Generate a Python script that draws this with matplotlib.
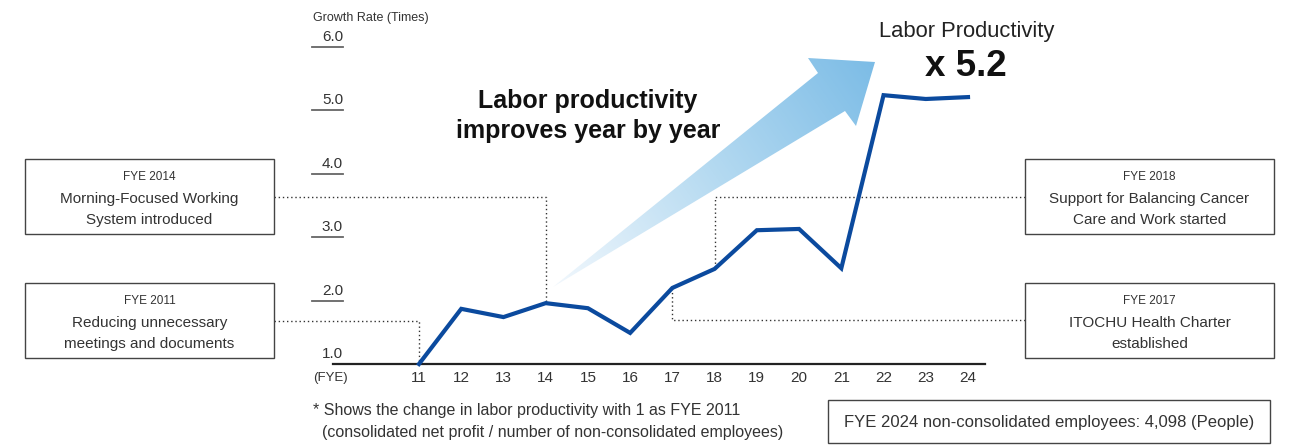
import numpy as np
import matplotlib
matplotlib.use("Agg")
import matplotlib.pyplot as plt
from matplotlib.patches import Rectangle, Polygon
from matplotlib.colors import LinearSegmentedColormap

# data
years = [11, 12, 13, 14, 15, 16, 17, 18, 19, 20, 21, 22, 23, 24]
growth = [1.0, 1.87, 1.74, 1.96, 1.88, 1.49, 2.20, 2.50, 3.11, 3.13, 2.51, 5.24, 5.18, 5.21]
ytick_vals = [1.0, 2.0, 3.0, 4.0, 5.0, 6.0]

events_left = [  # (fye, label lines, box top px)
    (14, ["FYE 2014", "Morning-Focused Working", "System introduced"], 159),
    (11, ["FYE 2011", "Reducing unnecessary", "meetings and documents"], 283),
]
events_right = [
    (18, ["FYE 2018", "Support for Balancing Cancer", "Care and Work started"], 159),
    (17, ["FYE 2017", "ITOCHU Health Charter", "established"], 283),
]
connector_levels = {14: 197, 11: 321, 18: 197, 17: 320}

W, H = 1294, 446
plt.rcParams['font.family'] = ['Liberation Sans', 'DejaVu Sans']

fig = plt.figure(figsize=(W / 100, H / 100), dpi=100)
fig.patch.set_facecolor("white")

# decoration layer in pixel coordinates
deco = fig.add_axes([0, 0, 1, 1], zorder=0)
deco.set_xlim(0, W)
deco.set_ylim(H, 0)
deco.axis("off")

# main data axes
ax_l, ax_r, ax_b, ax_t = 333, 985, 364, 20
ax = fig.add_axes([ax_l / W, 1 - ax_b / H, (ax_r - ax_l) / W, (ax_b - ax_t) / H], zorder=2)
ax.patch.set_alpha(0)
px_per_year = (968 - 419) / 13
ax.set_xlim(11 - (419 - ax_l) / px_per_year, 24 + (ax_r - 968) / px_per_year)
ax.set_ylim(1.0, 1.0 + (ax_b - ax_t) / 63.4)
for s in ["top", "right", "left"]:
    ax.spines[s].set_visible(False)
ax.spines["bottom"].set_color("#222222")
ax.spines["bottom"].set_linewidth(1.6)
ax.set_yticks([])
ax.set_xticks(years)
ax.set_xticklabels([str(y) for y in years], fontsize=11, color="#333333")
ax.tick_params(axis="x", length=0, pad=5)

ax.plot(years, growth, color="#0b4a9e", lw=3.0, solid_joinstyle="miter", clip_on=False, zorder=5)

fig.canvas.draw()


def to_px(x, y):
    dx, dy = ax.transData.transform((x, y))
    return dx, H - dy


# y "ticks": short grey lines with value above
for v in ytick_vals:
    _, py = to_px(years[0], v)
    if v > 1.0:
        deco.plot([312, 343], [py, py], color="#666666", lw=1.3)
    deco.text(343, py - 3, f"{v:.1f}", ha="right", va="bottom", fontsize=11, color="#333333")
deco.text(313, 18, "Growth Rate (Times)", ha="left", va="center", fontsize=9, color="#333333")
deco.text(313, 378, "(FYE)", ha="left", va="center", fontsize=9.5, color="#333333")

# gradient arrow
arrow_pts = np.array([(553, 287), (818, 73), (808, 58), (875, 62), (856, 126), (845, 111)])
yy, xx = np.mgrid[0:H, 0:W]
tail, tip = np.array([553, 287]), np.array([875, 62])
d = tip - tail
t = ((xx - tail[0]) * d[0] + (yy - tail[1]) * d[1]) / (d @ d)
cmap = LinearSegmentedColormap.from_list("arr", ["#f2f8fd", "#b5daf1", "#7cbce6"])
img = deco.imshow(np.clip(t, 0, 1), cmap=cmap, extent=(0, W, H, 0), origin="upper",
                  interpolation="bilinear", zorder=1)
poly = Polygon(arrow_pts, closed=True, facecolor="none", edgecolor="none")
deco.add_patch(poly)
img.set_clip_path(poly)
deco.set_xlim(0, W)
deco.set_ylim(H, 0)

deco.text(588, 116, "Labor productivity\nimproves year by year", ha="center", va="center",
          fontsize=18, fontweight="bold", color="#111111", linespacing=1.35)
deco.text(967, 32, "Labor Productivity", ha="center", va="center", fontsize=15.8, color="#222222")
deco.text(966, 66, "x 5.2", ha="center", va="center", fontsize=26.5, fontweight="bold", color="#111111")


# event boxes and dotted connectors
def draw_box(x0, top, lines):
    deco.add_patch(Rectangle((x0, top), 249, 75, facecolor="white", edgecolor="#444444", lw=1.0, zorder=3))
    deco.text(x0 + 124.5, top + 18, lines[0], ha="center", va="center", fontsize=8.5, color="#333333", zorder=4)
    deco.text(x0 + 124.5, top + 40, lines[1], ha="center", va="center", fontsize=11, color="#333333", zorder=4)
    deco.text(x0 + 124.5, top + 61, lines[2], ha="center", va="center", fontsize=11, color="#333333", zorder=4)


dot = dict(color="#333333", lw=1.0, linestyle=(0, (1, 2)), zorder=2)
for fye, lines, top in events_left:
    draw_box(25, top, lines)
    px, py = to_px(fye, growth[years.index(fye)])
    lvl = connector_levels[fye]
    deco.plot([274, px, px], [lvl, lvl, py], **dot)
for fye, lines, top in events_right:
    draw_box(1025, top, lines)
    px, py = to_px(fye, growth[years.index(fye)])
    lvl = connector_levels[fye]
    deco.plot([1025, px, px], [lvl, lvl, py], **dot)

# footnote and employee box
deco.text(313, 411, "* Shows the change in labor productivity with 1 as FYE 2011", ha="left", va="center",
          fontsize=11.5, color="#333333")
deco.text(313, 433, "  (consolidated net profit / number of non-consolidated employees)", ha="left", va="center",
          fontsize=11.5, color="#333333")
deco.add_patch(Rectangle((828, 400), 442, 43, facecolor="white", edgecolor="#444444", lw=1.0))
deco.text(1049, 422, "FYE 2024 non-consolidated employees: 4,098 (People)", ha="center", va="center",
          fontsize=12, color="#333333")

fig.savefig("out.png", dpi=100)
